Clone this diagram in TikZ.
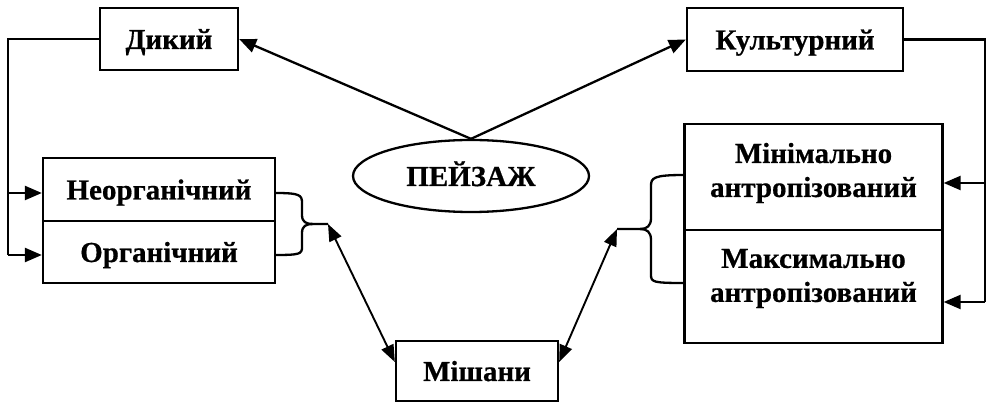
\documentclass[tikz,border=0pt]{standalone}
\usepackage{fontspec}
\setmainfont{Liberation Serif}[BoldFeatures={FakeBold=0.6}]
\usetikzlibrary{arrows.meta,shapes.geometric}
\begin{document}
\begin{tikzpicture}[x=1pt,y=-1pt,
  every node/.style={font=\fontsize{29}{34}\selectfont\bfseries, inner sep=0pt},
  box/.style={draw, line width=2.3pt, rectangle, text height=20pt, text depth=0pt},
  twobox/.style={draw, line width=2.3pt, rectangle},
  twotext/.style={align=center},
  oval/.style={draw, line width=2.3pt, ellipse, text height=20pt, text depth=0pt},
  conn/.style={line width=2.3pt},
  arr/.style={line width=2.3pt, -{Triangle[length=17pt,width=14pt]}},
  darr/.style={line width=1.9pt, {Triangle[length=17pt,width=13pt]}-{Triangle[length=17pt,width=13pt]}}
]
\useasboundingbox (0,0) rectangle (988,403);
\fill[white] (0,0) rectangle (988,403);

\node[box, minimum width=138pt, minimum height=62pt] (dyk) at (169,39) {Дикий};
\node[box, minimum width=216pt, minimum height=63pt] (kult) at (795,39.5) {Культурний};
\node[box, minimum width=232pt, minimum height=63pt] (neorg) at (159,189.5) {Неорганічний};
\node[box, minimum width=232pt, minimum height=62pt] (org) at (159,252) {Органічний};
\node[twobox, minimum width=258pt, minimum height=106pt] (min) at (813.5,177) {};
\node[twotext] (mintxt) at (813.5,173) {Мінімально\\антропізований};
\node[twobox, minimum width=258pt, minimum height=113pt] (max) at (813.5,286.5) {};
\node[twotext] (maxtxt) at (813.5,278.5) {Максимально\\антропізований};
\node[box, minimum width=162pt, minimum height=60pt] (mish) at (477,371) {Мішани};
\node[oval, minimum width=236pt, minimum height=72pt] (peyz) at (471,176) {ПЕЙЗАЖ};

% arrows from ПЕЙЗАЖ
\draw[arr] (peyz.north) -- (dyk.east);
\draw[arr] (peyz.north) -- (kult.west);

% left connector
\coordinate (la) at (8,193);
\coordinate (lb) at (8,255);
\draw[conn] (dyk.west) -| (lb);
\draw[arr] (la) -- (la -| neorg.west);
\draw[arr] (lb) -- (lb -| org.west);

% right connector
\coordinate (ra) at (985,183);
\coordinate (rb) at (985,302);
\draw[conn] (kult.east) -| (rb);
\draw[arr] (ra) -- (ra -| min.east);
\draw[arr] (rb) -- (rb -| max.east);

% left brace
\coordinate (bl) at (328,224);
\draw[conn] (275,193) .. controls (300,193) and (302,195) .. (302,203) -- (302,215)
  .. controls (302,222) and (306,224) .. (313,224) -- (bl);
\draw[conn] (313,224) .. controls (306,224) and (302,226) .. (302,233) -- (302,247)
  .. controls (302,254) and (300,255) .. (275,255);

% right brace
\coordinate (br) at (617,229);
\draw[conn] (684,175) .. controls (653,175) and (651,178) .. (651,186) -- (651,218)
  .. controls (651,226) and (647,229) .. (640,229) -- (br);
\draw[conn] (640,229) .. controls (647,229) and (651,232) .. (651,240) -- (651,275)
  .. controls (651,282) and (653,283) .. (684,283);

% double arrows to Мішани
\draw[darr] (bl) -- ([yshift=9pt]mish.west);
\draw[darr] (br) -- ([yshift=9pt]mish.east);
\end{tikzpicture}
\end{document}
